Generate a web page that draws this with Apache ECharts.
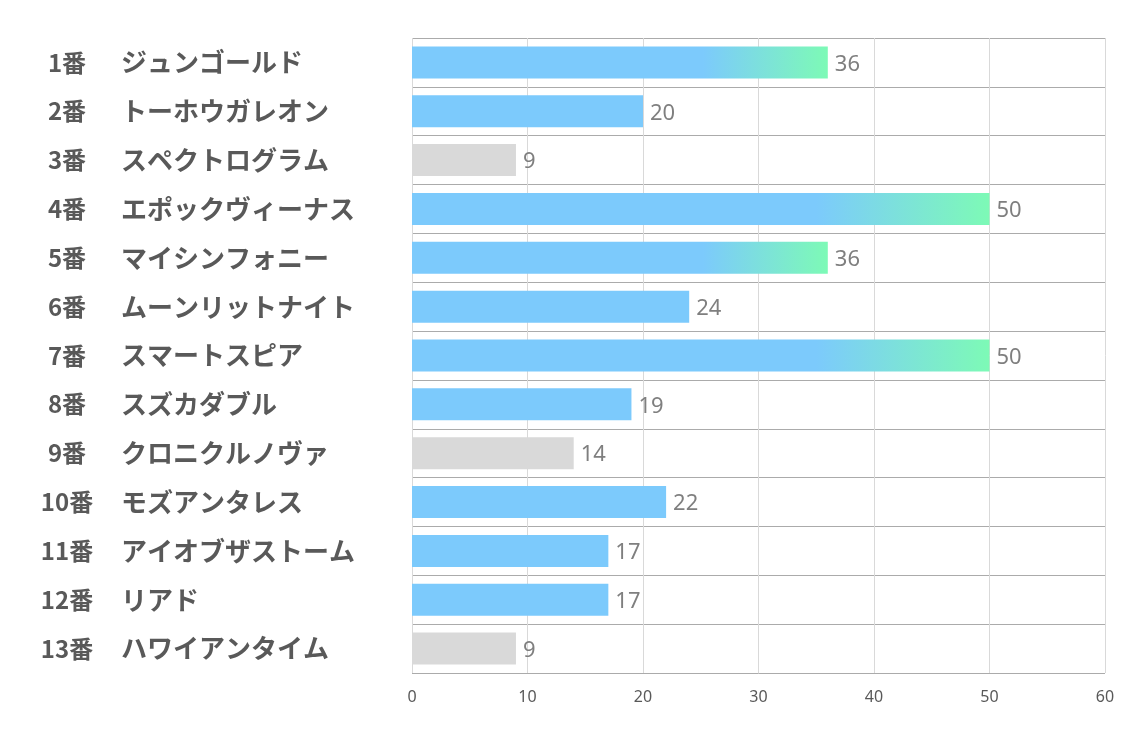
<!DOCTYPE html>
<html><head><meta charset="utf-8">
<script src="https://cdn.jsdelivr.net/npm/echarts@6/dist/echarts.min.js"></script>
<style>html,body{margin:0;padding:0;background:#fff}#c{width:1134px;height:737px}</style>
</head><body><div id="c"></div>
<script>
var numbers = ['1番','2番','3番','4番','5番','6番','7番','8番','9番','10番','11番','12番','13番'];
var names = ['ジュンゴールド','トーホウガレオン','スペクトログラム','エポックヴィーナス','マイシンフォニー','ムーンリットナイト','スマートスピア','スズカダブル','クロニクルノヴァ','モズアンタレス','アイオブザストーム','リアド','ハワイアンタイム'];
var values = [36,20,9,50,36,24,50,19,14,22,17,17,9];
var xTicks = [0,10,20,30,40,50,60];

var BLUE = '#7ccafc', GREEN = '#7dfab6', GRAY = '#d9d9d9';
function colorFor(v){
  if (v < 15) return GRAY;
  if (v >= 30) return {type:'linear',x:0,y:0,x2:1,y2:0,colorStops:[{offset:0,color:BLUE},{offset:0.7,color:BLUE},{offset:1,color:GREEN}]};
  return BLUE;
}
var cats = numbers.map(function(n,i){return n+'|'+names[i];});
var chart = echarts.init(document.getElementById('c'), null, {renderer:'canvas'});
chart.setOption({
  animation:false,
  grid:{left:412,right:29,top:38,bottom:64,containLabel:false},
  xAxis:{type:'value',min:xTicks[0],max:xTicks[xTicks.length-1],interval:10,
    axisLine:{show:false},axisTick:{show:false},
    axisLabel:{color:'#595959',fontSize:16,margin:16,fontFamily:'Noto Sans'},
    splitLine:{show:true,lineStyle:{color:'#d9d9d9',width:1}}},
  yAxis:{type:'category',inverse:true,data:cats,
    axisLine:{show:false},axisTick:{show:false},
    splitLine:{show:true,lineStyle:{color:'#ababab',width:1}},
    axisLabel:{align:'left',margin:374,
      formatter:function(v){var p=v.split('|');return '{n|'+p[0]+'}{m|'+p[1]+'}';},
      rich:{
        n:{width:58,align:'right',fontSize:24,fontWeight:'bold',color:'#595959',fontFamily:'"Noto Sans CJK JP"'},
        m:{padding:[0,0,0,25],fontSize:26,fontWeight:'bold',color:'#595959',fontFamily:'"Noto Sans CJK JP"'}
      }}},
  series:[{type:'bar',barWidth:32,
    data:values.map(function(v){return {value:v,itemStyle:{color:colorFor(v)}};}),
    label:{show:true,position:'right',distance:7,color:'#7f7f7f',fontSize:22,fontFamily:'Noto Sans',offset:[0,2]}}]
});
</script></body></html>
